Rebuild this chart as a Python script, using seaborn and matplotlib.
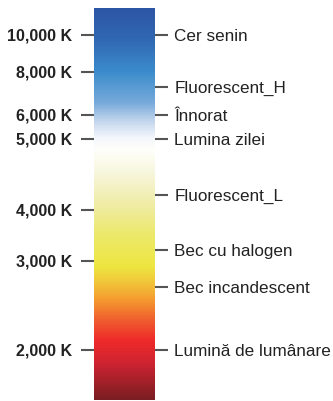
import numpy as np
import matplotlib
matplotlib.use("Agg")
import matplotlib.pyplot as plt
from matplotlib.colors import LinearSegmentedColormap
import seaborn as sns

# Colour temperature ticks on the left (kelvin)
kelvin_ticks = [10000, 8000, 6000, 5000, 4000, 3000, 2000]
kelvin_labels = ["10,000 K", "8,000 K", "6,000 K", "5,000 K", "4,000 K", "3,000 K", "2,000 K"]

# Light sources on the right and their colour temperatures (kelvin)
sources = ["Cer senin", "Fluorescent_H", "Înnorat", "Lumina zilei",
           "Fluorescent_L", "Bec cu halogen", "Bec incandescent", "Lumină de lumânare"]
source_kelvin = [10000, 7300, 6000, 5000, 4200, 3200, 2700, 2000]

# Row position of each kelvin tick along the strip (the strip is not linear in K)
N_ROWS = 392
tick_rows = [26, 63, 106, 130, 201, 252, 341]

# Colour stops along the strip: (row fraction, colour)
stops = [
    (0.00, "#2d55a5"),
    (0.08, "#3068b2"),
    (0.16, "#3a8bcb"),
    (0.24, "#76a9da"),
    (0.29, "#c6d8ee"),
    (0.33, "#f3f6fb"),
    (0.36, "#fefefb"),
    (0.42, "#f7f6dc"),
    (0.50, "#efeca6"),
    (0.58, "#ece86a"),
    (0.66, "#ede640"),
    (0.70, "#f1c63a"),
    (0.74, "#f5a030"),
    (0.80, "#ef5a2e"),
    (0.85, "#ee2a2a"),
    (0.91, "#cc2230"),
    (1.00, "#7a1e22"),
]
cmap = LinearSegmentedColormap.from_list("cct", stops, N=512)


def kelvin_to_row(k):
    # piecewise-linear map between kelvin ticks and strip rows
    kt = np.array(kelvin_ticks[::-1], dtype=float)
    rows = np.array(tick_rows[::-1], dtype=float)
    return np.interp(k, kt, rows) + 0.5


sns.set_style("white")
plt.rcParams["font.family"] = ["Liberation Sans", "DejaVu Sans"]

fig = plt.figure(figsize=(3.33, 4.01), dpi=100)
ax = fig.add_axes([94 / 333, 1 - 400 / 401, 61 / 333, 392 / 401])

strip = np.linspace(0, 1, N_ROWS).reshape(-1, 1)
sns.heatmap(strip, cmap=cmap, vmin=0, vmax=1, cbar=False, ax=ax,
            xticklabels=False, yticklabels=False)

tick_color = "#555555"
ax.set_yticks([kelvin_to_row(k) for k in kelvin_ticks])
ax.set_yticklabels(kelvin_labels, fontsize=11.5, fontweight="bold", color="#222222")
ax.tick_params(axis="y", left=True, length=9.5, width=1.5, color=tick_color, pad=6.5)
ax.set_xticks([])

ax2 = ax.twinx()
ax2.set_ylim(ax.get_ylim())
ax2.set_yticks([kelvin_to_row(k) for k in source_kelvin])
ax2.set_yticklabels(sources, fontsize=12.3, color="#222222")
ax2.tick_params(axis="y", right=True, length=9.5, width=1.5, color=tick_color, pad=4.5)
for a in (ax, ax2):
    for s in a.spines.values():
        s.set_visible(False)

fig.savefig("out.png", dpi=100)
